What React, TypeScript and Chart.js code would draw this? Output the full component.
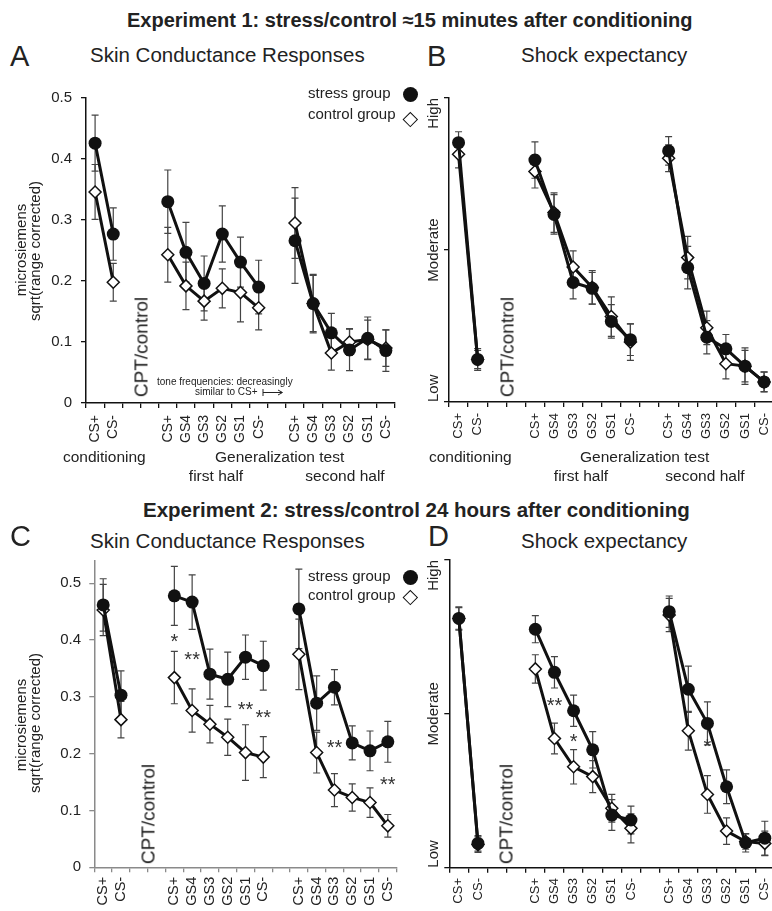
import React, { useEffect, useRef } from 'react';
import { Chart, registerables } from 'chart.js';
Chart.register(...registerables);

const FONT = "'Liberation Sans', Arial, Helvetica, sans-serif";
Chart.defaults.font.family = FONT;

// ---------- data ----------
const categories = ['CS+', 'CS-', '', '', 'CS+', 'GS4', 'GS3', 'GS2', 'GS1', 'CS-', '', 'CS+', 'GS4', 'GS3', 'GS2', 'GS1', 'CS-'];

// Panel A: Experiment 1, SCR
const scrStress1 = [0.426, 0.277, null, null, 0.330, 0.247, 0.196, 0.277, 0.231, 0.190, null, 0.266, 0.163, 0.115, 0.087, 0.106, 0.086];
const scrControl1 = [0.346, 0.198, null, null, 0.243, 0.192, 0.167, 0.188, 0.181, 0.156, null, 0.295, 0.163, 0.082, 0.100, 0.104, 0.090];
const scrStressErr1 = [0.046, 0.043, null, null, 0.052, 0.049, 0.045, 0.046, 0.041, 0.044, null, 0.07, 0.046, 0.032, 0.034, 0.035, 0.034];
const scrControlErr1 = [0.045, 0.031, null, null, 0.045, 0.039, 0.031, 0.032, 0.048, 0.036, null, 0.058, 0.048, 0.028, 0.022, 0.032, 0.03];

// Panel B: Experiment 1, shock expectancy (Low = 0, High = 100)
const expStress1 = [85.3, 14.0, null, null, 79.6, 61.7, 39.3, 37.4, 26.5, 20.5, null, 82.6, 44.2, 21.3, 17.5, 11.8, 6.6];
const expControl1 = [81.5, 14.0, null, null, 75.8, 62.3, 44.4, 37.7, 28.1, 19.7, null, 80.2, 47.5, 24.4, 12.6, 11.8, 6.6];
const expStressErr1 = [3.6, 3.6, null, null, 6, 6.5, 5.4, 5.2, 5.5, 5.2, null, 4.7, 7, 5.5, 4.7, 5.2, 3.3];
const expControlErr1 = [4.5, 3, null, null, 5.4, 6.5, 5.3, 5.5, 6.5, 6, null, 4.4, 7, 5.5, 5, 6, 3.2];

// Panel C: Experiment 2, SCR
const scrStress2 = [0.462, 0.303, null, null, 0.478, 0.467, 0.340, 0.331, 0.370, 0.355, null, 0.455, 0.289, 0.317, 0.219, 0.205, 0.221];
const scrControl2 = [0.453, 0.260, null, null, 0.334, 0.276, 0.252, 0.229, 0.202, 0.194, null, 0.375, 0.202, 0.136, 0.123, 0.114, 0.073];
const scrStressErr2 = [0.046, 0.043, null, null, 0.052, 0.048, 0.044, 0.048, 0.039, 0.043, null, 0.07, 0.048, 0.031, 0.03, 0.035, 0.036];
const scrControlErr2 = [0.045, 0.032, null, null, 0.046, 0.038, 0.033, 0.032, 0.049, 0.036, null, 0.062, 0.036, 0.029, 0.024, 0.026, 0.02];

// Panel D: Experiment 2, shock expectancy
const expStress2 = [81, 7.9, null, null, 77.5, 63.5, 51, 38.3, 17.1, 15.5, null, 83.2, 58, 46.9, 26.3, 8.1, 9.6];
const expControl2 = [81, 7.5, null, null, 64.6, 42, 32.8, 29.6, 19.3, 12.8, null, 82.1, 44.5, 23.8, 11.9, 8.5, 7.9];
const expStressErr2 = [3.8, 2.5, null, null, 4.4, 5.1, 5.1, 5.9, 5, 4.5, null, 5.1, 7.5, 7, 5.5, 3, 5.5];
const expControlErr2 = [3.5, 2.5, null, null, 4.6, 5, 5.6, 5.2, 4.5, 4.7, null, 5.4, 6.3, 6.1, 4.3, 2.5, 4];

// significance markers
const starIdxC = [4, 5, 8, 9, 13, 16];
const starValC = [0.406, 0.375, 0.286, 0.272, 0.219, 0.154];
const starTxtC = ['*', '**', '**', '**', '**', '**'];
const starIdxD = [5, 6, 13];
const starValD = [54.3, 42.5, 41];
const starTxtD = ['**', '*', '*'];

// axis ticks
const scrTicks = [0, 0.1, 0.2, 0.3, 0.4, 0.5];
const expTicks = [0, 50, 100];
const expLevels = ['Low', 'Moderate', 'High'];

// ---------- plugins ----------
const errorBarPlugin = {
  id: 'errbars',
  beforeDatasetsDraw(chart: any) {
    const ctx = chart.ctx;
    const xs = chart.scales.x;
    const ys = chart.scales.y;
    chart.data.datasets.forEach((ds: any) => {
      const errs = ds.errors || [];
      ctx.save();
      ctx.strokeStyle = ds.errColor || '#444';
      ctx.lineWidth = 1.2;
      ds.data.forEach((v: any, i: number) => {
        const e = errs[i];
        if (v == null || e == null) return;
        const x = xs.getPixelForValue(i);
        const y1 = ys.getPixelForValue(v + e);
        const y2 = ys.getPixelForValue(v - e);
        ctx.beginPath();
        ctx.moveTo(x, y1); ctx.lineTo(x, y2);
        ctx.moveTo(x - 3.5, y1); ctx.lineTo(x + 3.5, y1);
        ctx.moveTo(x - 3.5, y2); ctx.lineTo(x + 3.5, y2);
        ctx.stroke();
      });
      ctx.restore();
    });
  },
};

const extrasPlugin = {
  id: 'extras',
  afterDraw(chart: any) {
    const o = chart.options.plugins.extras || {};
    const ctx = chart.ctx;
    const xs = chart.scales.x;
    const ys = chart.scales.y;
    if (o.starIdx) {
      ctx.save();
      ctx.font = `20px ${FONT}`;
      ctx.fillStyle = '#333';
      ctx.textAlign = 'center';
      ctx.textBaseline = 'alphabetic';
      o.starIdx.forEach((idx: number, k: number) => {
        ctx.fillText(o.starTxt[k], xs.getPixelForValue(idx), ys.getPixelForValue(o.starVal[k]) + 11.5);
      });
      ctx.restore();
    }
    if (o.levels) {
      ctx.save();
      ctx.font = `15px ${FONT}`;
      ctx.fillStyle = '#222';
      ctx.textBaseline = 'middle';
      const x = chart.chartArea.left - 15.5;
      o.levels.forEach((lab: string, k: number) => {
        ctx.save();
        ctx.translate(x, ys.getPixelForValue(expTicks[k]));
        ctx.rotate(-Math.PI / 2);
        ctx.textAlign = k === 0 ? 'left' : k === 1 ? 'center' : 'right';
        ctx.fillText(lab, 0, 0);
        ctx.restore();
      });
      ctx.restore();
    }
  },
};

// ---------- panel ----------
type PanelProps = {
  left: number; top: number; width: number; height: number;
  pad: { left: number; right: number; top: number; bottom: number };
  yWidth: number; xHeight: number;
  yMax: number; yTicks: number[]; showYLabels: boolean;
  stress: (number | null)[]; control: (number | null)[];
  stressErr: (number | null)[]; controlErr: (number | null)[];
  starIdx?: number[]; starVal?: number[]; starTxt?: string[];
  axisColor: string; xFont: number; xPad: number; yPad: number;
  levels?: string[];
};

function Panel(p: PanelProps) {
  const ref = useRef<HTMLCanvasElement | null>(null);
  useEffect(() => {
    if (!ref.current) return;
    const chart = new Chart(ref.current, {
      type: 'line',
      data: {
        labels: categories,
        datasets: [
          {
            label: 'stress group',
            data: p.stress,
            errors: p.stressErr,
            borderColor: '#111',
            borderWidth: 3,
            pointStyle: 'circle',
            pointRadius: 6.5,
            pointBackgroundColor: '#111',
            pointBorderColor: '#111',
            pointBorderWidth: 0,
            spanGaps: false,
            tension: 0,
          } as any,
          {
            label: 'control group',
            data: p.control,
            errors: p.controlErr,
            borderColor: '#111',
            borderWidth: 3,
            pointStyle: 'rectRot',
            pointRadius: 6,
            pointBackgroundColor: '#fff',
            pointBorderColor: '#111',
            pointBorderWidth: 1.5,
            spanGaps: false,
            tension: 0,
          } as any,
        ],
      },
      options: {
        animation: false,
        responsive: false,
        events: [],
        layout: { padding: p.pad },
        plugins: {
          legend: { display: false },
          tooltip: { enabled: false },
          extras: { starIdx: p.starIdx, starVal: p.starVal, starTxt: p.starTxt, levels: p.levels },
        } as any,
        scales: {
          x: {
            type: 'category',
            offset: true,
            grid: { display: true, offset: true, drawOnChartArea: false, drawTicks: true, tickLength: 5, color: p.axisColor, lineWidth: 1.3 },
            border: { display: true, color: p.axisColor, width: 1.5 },
            ticks: { autoSkip: false, minRotation: 90, maxRotation: 90, padding: p.xPad, color: '#222', font: { size: p.xFont } },
            afterFit: (s: any) => { s.height = p.xHeight; },
          },
          y: {
            type: 'linear',
            min: 0,
            max: p.yMax,
            grid: { display: true, drawOnChartArea: false, drawTicks: true, tickLength: 5, color: p.axisColor, lineWidth: 1.3 },
            border: { display: true, color: p.axisColor, width: 1.5 },
            ticks: {
              padding: p.yPad,
              color: '#222',
              font: { size: 15 },
              callback: (v: any) => (p.showYLabels ? String(Math.round(Number(v) * 10) / 10) : ''),
            },
            afterBuildTicks: (s: any) => { s.ticks = p.yTicks.map((v) => ({ value: v })); },
            afterFit: (s: any) => { s.width = p.yWidth; },
          },
        },
      } as any,
      plugins: [errorBarPlugin, extrasPlugin],
    });
    return () => chart.destroy();
  }, []);
  return (
    <canvas
      ref={ref}
      width={p.width}
      height={p.height}
      style={{ position: 'absolute', left: p.left, top: p.top, width: p.width, height: p.height }}
    />
  );
}

// ---------- text helpers ----------
function T(props: { x: number; y: number; size: number; bold?: boolean; center?: boolean; children: any }) {
  const { x, y, size, bold, center, children } = props;
  return (
    <div
      style={{
        position: 'absolute',
        left: x,
        top: y - 0.8465 * size,
        fontSize: size,
        lineHeight: `${size}px`,
        fontWeight: bold ? 'bold' : 'normal',
        whiteSpace: 'nowrap',
        transform: center ? 'translateX(-50%)' : undefined,
      }}
    >
      {children}
    </div>
  );
}

function R(props: { cx: number; cy: number; size: number; children: any }) {
  const { cx, cy, size, children } = props;
  return (
    <div
      style={{
        position: 'absolute',
        left: cx,
        top: cy,
        fontSize: size,
        lineHeight: `${size}px`,
        whiteSpace: 'nowrap',
        transform: 'translate(-50%, -50%) rotate(-90deg)',
      }}
    >
      {children}
    </div>
  );
}

function Legend(props: { y1: number; y2: number; cy1: number; cy2: number }) {
  return (
    <>
      <T x={308} y={props.y1} size={15}>stress group</T>
      <T x={308} y={props.y2} size={15}>control group</T>
      <div style={{ position: 'absolute', left: 410 - 7.5, top: props.cy1 - 7.5, width: 15, height: 15, borderRadius: '50%', background: '#111' }} />
      <div
        style={{
          position: 'absolute', left: 410.5 - 5.3, top: props.cy2 - 5.3, width: 10.6, height: 10.6,
          boxSizing: 'border-box', border: '1.4px solid #111', background: '#fff', transform: 'rotate(45deg)',
        }}
      />
    </>
  );
}

export default function App() {
  return (
    <div
      style={{
        position: 'absolute', left: 0, top: 0, width: 772, height: 911, overflow: 'hidden',
        background: '#fff', fontFamily: FONT, color: '#222',
      }}
    >
      {/* ---- Experiment 1 ---- */}
      <T x={127} y={27} size={20} bold>Experiment 1: stress/control ≈15 minutes after conditioning</T>
      <T x={10} y={67} size={29}>A</T>
      <T x={427} y={67} size={29}>B</T>
      <T x={90} y={62} size={20.5}>Skin Conductance Responses</T>
      <T x={521} y={62} size={20.5}>Shock expectancy</T>

      <Panel
        left={0} top={80} width={410} height={400}
        pad={{ left: 46, right: 11.2, top: 17, bottom: 17 }} yWidth={40} xHeight={60}
        yMax={0.5} yTicks={scrTicks} showYLabels
        stress={scrStress1} control={scrControl1} stressErr={scrStressErr1} controlErr={scrControlErr1}
        axisColor="#111" xFont={14} xPad={7} yPad={9}
      />
      <Panel
        left={386} top={80} width={400} height={400}
        pad={{ left: 23, right: 10.6, top: 16, bottom: 18 }} yWidth={40} xHeight={60}
        yMax={100} yTicks={expTicks} showYLabels={false} levels={expLevels}
        stress={expStress1} control={expControl1} stressErr={expStressErr1} controlErr={expControlErr1}
        axisColor="#111" xFont={13} xPad={6} yPad={9}
      />

      <R cx={20} cy={250} size={15}>microsiemens</R>
      <R cx={34} cy={251} size={15}>sqrt(range corrected)</R>
      <R cx={141} cy={347} size={19}>CPT/control</R>
      <R cx={507} cy={347} size={19}>CPT/control</R>

      <T x={157} y={385} size={10}>tone frequencies: decreasingly</T>
      <T x={195} y={395.5} size={10}>similar to CS+</T>
      <svg style={{ position: 'absolute', left: 261, top: 387 }} width={24} height={11}>
        <line x1={2} y1={2} x2={2} y2={9} stroke="#222" strokeWidth={1} />
        <line x1={2} y1={5.5} x2={21} y2={5.5} stroke="#222" strokeWidth={1} />
        <polyline points="17,3 21.5,5.5 17,8" fill="none" stroke="#222" strokeWidth={1} />
      </svg>

      <Legend y1={98} y2={119} cy1={94.5} cy2={119.5} />

      <T x={63} y={462} size={15.5}>conditioning</T>
      <T x={215} y={462} size={15.5}>Generalization test</T>
      <T x={216} y={481} size={15.5} center>first half</T>
      <T x={345} y={481} size={15.5} center>second half</T>
      <T x={429} y={462} size={15.5}>conditioning</T>
      <T x={580} y={462} size={15.5}>Generalization test</T>
      <T x={581} y={481} size={15.5} center>first half</T>
      <T x={705} y={481} size={15.5} center>second half</T>

      {/* ---- Experiment 2 ---- */}
      <T x={143} y={517} size={20.5} bold>Experiment 2: stress/control 24 hours after conditioning</T>
      <T x={10} y={547} size={29}>C</T>
      <T x={428} y={547} size={29}>D</T>
      <T x={90} y={548} size={20.5}>Skin Conductance Responses</T>
      <T x={521} y={548} size={20.5}>Shock expectancy</T>

      <Panel
        left={0} top={540} width={410} height={371}
        pad={{ left: 50.3, right: 9.7, top: 20.6, bottom: 3.7 }} yWidth={44} xHeight={40}
        yMax={0.54} yTicks={scrTicks} showYLabels
        stress={scrStress2} control={scrControl2} stressErr={scrStressErr2} controlErr={scrControlErr2}
        starIdx={starIdxC} starVal={starValC} starTxt={starTxtC}
        axisColor="#8a8a8a" xFont={14.5} xPad={4.5} yPad={8.3}
      />
      <Panel
        left={386} top={540} width={400} height={371}
        pad={{ left: 23.3, right: 10.3, top: 20, bottom: 3.3 }} yWidth={40} xHeight={40}
        yMax={100} yTicks={expTicks} showYLabels={false} levels={expLevels}
        stress={expStress2} control={expControl2} stressErr={expStressErr2} controlErr={expControlErr2}
        starIdx={starIdxD} starVal={starValD} starTxt={starTxtD}
        axisColor="#111" xFont={13} xPad={5.3} yPad={9}
      />

      <R cx={20} cy={725} size={15}>microsiemens</R>
      <R cx={34} cy={723} size={15}>sqrt(range corrected)</R>
      <R cx={148} cy={814} size={19}>CPT/control</R>
      <R cx={506} cy={814} size={19}>CPT/control</R>

      <Legend y1={580.5} y2={600} cy1={577} cy2={597} />
    </div>
  );
}
